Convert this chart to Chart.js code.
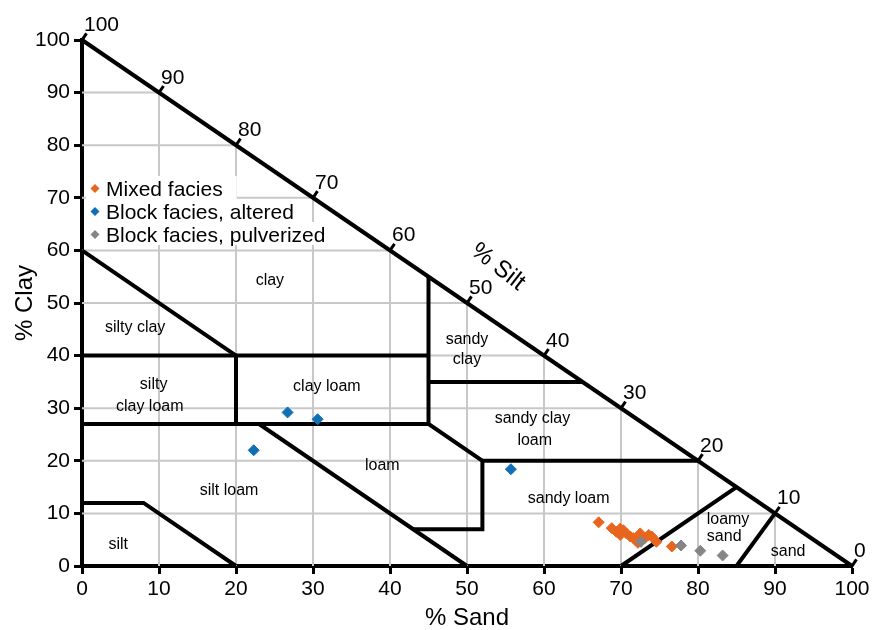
<!DOCTYPE html>
<html>
<head>
<meta charset="utf-8">
<script src="https://cdn.jsdelivr.net/npm/chart.js@4.4.1/dist/chart.umd.min.js"></script>
<style>
html,body{margin:0;padding:0;background:#fff;}
canvas{display:block;}
</style>
</head>
<body>
<canvas id="c" width="874" height="630"></canvas>
<script>
// ---- tick labels ----
const axisTicks = [0, 10, 20, 30, 40, 50, 60, 70, 80, 90, 100];
const siltTickLabels = ['100', '90', '80', '70', '60', '50', '40', '30', '20', '10', '0'];

// ---- series (x = % sand, y = % clay) ----
const seriesNames = ['Mixed facies', 'Block facies, altered', 'Block facies, pulverized'];
const seriesColors = ['#E8651E', '#1070B4', '#858585'];

const mixedSand = [67.1, 68.8, 69.4, 69.9, 69.9, 70.3, 70.7, 71.2, 71.6, 71.9, 72.2, 72.5, 73.1, 73.6, 74.0, 74.6, 76.6];
const mixedClay = [8.3, 7.2, 6.5, 5.9, 7.1, 6.8, 6.2, 5.6, 5.3, 4.9, 4.4, 6.2, 5.3, 5.9, 5.6, 4.6, 3.7];

const alteredSand = [26.7, 30.6, 22.3, 55.7];
const alteredClay = [29.2, 27.9, 22.0, 18.4];

const pulverizedSand = [72.6, 77.8, 80.3, 83.2];
const pulverizedClay = [4.6, 3.9, 2.9, 2.0];

// ---- texture-class boundaries, [sand, clay] ----
const boundaries = [
  [[0, 100], [100, 0]],
  [[0, 60], [20, 40]],
  [[0, 40], [45, 40]],
  [[20, 40], [20, 27]],
  [[0, 27], [45, 27]],
  [[45, 55], [45, 27], [52, 20], [52, 7], [43, 7]],
  [[45, 35], [65, 35]],
  [[52, 20], [80, 20]],
  [[23, 27], [50, 0]],
  [[0, 12], [8, 12], [20, 0]],
  [[70, 0], [85, 15]],
  [[85, 0], [90, 10]]
];

// ---- class names [text, sand, clay] ----
const classLabels = [
  ['clay', 24.4, 54.2],
  ['silty clay', 6.9, 45.4],
  ['silty', 9.3, 34.4],
  ['clay loam', 8.8, 30.4],
  ['clay loam', 31.8, 34.2],
  ['sandy', 50.0, 43.0],
  ['clay', 50.0, 39.2],
  ['sandy clay', 58.5, 28.1],
  ['loam', 58.8, 23.9],
  ['loam', 39.0, 19.0],
  ['silt loam', 19.1, 14.4],
  ['sandy loam', 63.2, 12.9],
  ['loamy', 83.9, 8.9],
  ['sand', 83.4, 5.5],
  ['sand', 91.7, 2.7],
  ['silt', 4.7, 4.0]
];

const toPts = (xs, ys) => xs.map((v, i) => ({x: v, y: ys[i]}));

const datasets = [];
// points
[[pulverizedSand, pulverizedClay, 2], [mixedSand, mixedClay, 0], [alteredSand, alteredClay, 1]].forEach(([xs, ys, k], i) => {
  datasets.push({
    label: seriesNames[k],
    data: toPts(xs, ys),
    showLine: false,
    pointStyle: 'rectRot',
    pointRadius: 5.5,
    pointBorderWidth: 1,
    backgroundColor: seriesColors[k],
    borderColor: seriesColors[k],
    order: i,
    clip: false
  });
});
// boundaries
boundaries.forEach(b => {
  datasets.push({
    label: '_b',
    data: b.map(p => ({x: p[0], y: p[1]})),
    showLine: true,
    borderColor: '#000',
    borderWidth: 4,
    pointRadius: 0,
    borderJoinStyle: 'miter',
    borderCapStyle: 'butt',
    tension: 0,
    order: 10,
    clip: false
  });
});
// grid clipped to triangle
axisTicks.filter(v => v > 0 && v < 100).forEach(v => {
  datasets.push({label: '_g', data: [{x: v, y: 0}, {x: v, y: 100 - v}], showLine: true,
    borderColor: '#C8C8C8', borderWidth: 2, pointRadius: 0, order: 20});
  datasets.push({label: '_g', data: [{x: 0, y: v}, {x: 100 - v, y: v}], showLine: true,
    borderColor: '#C8C8C8', borderWidth: 2, pointRadius: 0, order: 20});
});

const FONT = '"Liberation Sans", Arial, sans-serif';

const decor = {
  id: 'decor',
  afterDatasetsDraw(chart) {
    const {ctx} = chart;
    const x = chart.scales.x, y = chart.scales.y;
    const px = v => x.getPixelForValue(v), py = v => y.getPixelForValue(v);
    ctx.save();
    // silt ticks along hypotenuse
    const dx = px(100) - px(0), dy = py(0) - py(100);
    const len = Math.hypot(dx, dy);
    const nx = dy / len, ny = -dx / len;
    ctx.strokeStyle = '#000';
    ctx.lineWidth = 3;
    ctx.fillStyle = '#000';
    ctx.font = '21px ' + FONT;
    ctx.textAlign = 'left';
    ctx.textBaseline = 'alphabetic';
    axisTicks.forEach((s, i) => {
      const X = px(s), Y = py(100 - s);
      ctx.beginPath();
      ctx.moveTo(X - nx, Y - ny);
      ctx.lineTo(X + nx * 8, Y + ny * 8);
      ctx.stroke();
      ctx.fillText(siltTickLabels[i], X + 2, Y - 9);
    });
    // % Silt title
    ctx.save();
    ctx.translate(498, 267);
    ctx.rotate(38 * Math.PI / 180);
    ctx.font = '24px ' + FONT;
    ctx.textAlign = 'center';
    ctx.textBaseline = 'middle';
    ctx.fillText('% Silt', 0, 0);
    ctx.restore();
    // class labels
    ctx.font = '16px ' + FONT;
    ctx.textAlign = 'center';
    ctx.textBaseline = 'middle';
    classLabels.forEach(([t, s, c]) => ctx.fillText(t, px(s), py(c)));
    // legend
    ctx.font = '21px ' + FONT;
    ctx.textAlign = 'left';
    ctx.textBaseline = 'alphabetic';
    const baseY = [196, 219, 242];
    seriesNames.forEach((name, i) => {
      const w = ctx.measureText(name).width;
      ctx.fillStyle = '#fff';
      ctx.fillRect(86, baseY[i] - 20, 106 - 86 + w + 14, 23);
    });
    seriesNames.forEach((name, i) => {
      const cx = 95, cy = baseY[i] - 7.5, r = 4.5;
      ctx.fillStyle = seriesColors[i];
      ctx.beginPath();
      ctx.moveTo(cx - r, cy); ctx.lineTo(cx, cy - r); ctx.lineTo(cx + r, cy); ctx.lineTo(cx, cy + r);
      ctx.closePath();
      ctx.fill();
      ctx.fillStyle = '#000';
      ctx.fillText(name, 106, baseY[i]);
    });
    ctx.restore();
  }
};

new Chart(document.getElementById('c'), {
  type: 'scatter',
  data: {datasets},
  options: {
    responsive: false,
    animation: false,
    devicePixelRatio: 1,
    events: [],
    layout: {padding: {top: 40, right: 22, left: 0, bottom: 0}},
    plugins: {legend: {display: false}, tooltip: {enabled: false}},
    scales: {
      x: {
        type: 'linear', min: 0, max: 100,
        afterBuildTicks: s => { s.ticks = axisTicks.map(v => ({value: v})); },
        afterFit: s => { s.height = 64; },
        grid: {display: true, drawOnChartArea: false, drawTicks: true, tickLength: 8, tickWidth: 3, tickColor: '#000'},
        border: {display: true, color: '#000', width: 4},
        ticks: {color: '#000', font: {family: FONT, size: 21}, padding: 3, maxRotation: 0, autoSkip: false},
        title: {display: true, text: '% Sand', color: '#000', font: {family: FONT, size: 24, lineHeight: 1}, padding: 0}
      },
      y: {
        type: 'linear', min: 0, max: 100,
        afterBuildTicks: s => { s.ticks = axisTicks.map(v => ({value: v})); },
        afterFit: s => { s.width = 82; },
        grid: {display: true, drawOnChartArea: false, drawTicks: true, tickLength: 8, tickWidth: 3, tickColor: '#000'},
        border: {display: true, color: '#000', width: 4},
        ticks: {color: '#000', font: {family: FONT, size: 21}, padding: 4, autoSkip: false},
        title: {display: true, text: '% Clay', color: '#000', font: {family: FONT, size: 24, lineHeight: 1}, padding: {top: 13, bottom: 0}}
      }
    }
  },
  plugins: [decor]
});
</script>
</body>
</html>
